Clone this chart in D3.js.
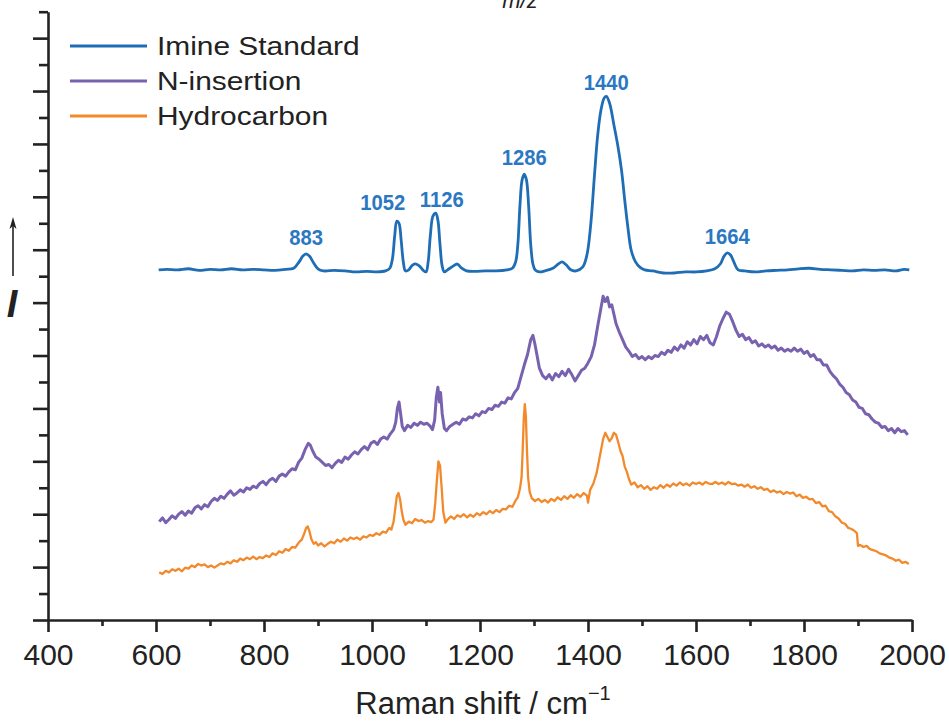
<!DOCTYPE html>
<html>
<head>
<meta charset="utf-8">
<script src="https://cdn.jsdelivr.net/npm/d3@7"></script>
<style>
  body { margin: 0; background: #fff; }
  svg { display: block; }
</style>
</head>
<body>
<div id="chart"></div>
<script>
// x ticks (Raman shift, cm-1)
const xMajor = [400, 600, 800, 1000, 1200, 1400, 1600, 1800, 2000];
const xMinor = [500, 700, 900, 1100, 1300, 1500, 1700, 1900];
// y ticks (arbitrary intensity units, offset stacked)
const yMajor = [0, 1, 2, 3, 4, 5, 6, 7, 8, 9, 10, 11];
const yMinor = [0.5, 1.5, 2.5, 3.5, 4.5, 5.5, 6.5, 7.5, 8.5, 9.5, 10.5, 11.5];

const seriesNames = ["Imine Standard", "N-insertion", "Hydrocarbon"];
const seriesColors = ["#1f6db5", "#7862b0", "#f28a2c"];

// imine standard spectrum [shift, intensity]
const imine = [[605,6.62],[620,6.63],[640,6.62],[660,6.64],[680,6.61],[700,6.63],[720,6.62],[740,6.64],[760,6.62],[780,6.63],[800,6.62],[820,6.61],[840,6.63],[855,6.65],[865,6.77],[872,6.88],[878,6.92],[884,6.88],[892,6.75],[900,6.64],[910,6.60],[930,6.61],[950,6.60],[970,6.58],[990,6.59],[1010,6.58],[1025,6.60],[1033,6.65],[1038,6.84],[1042,7.26],[1046,7.54],[1050,7.50],[1054,7.18],[1058,6.77],[1062,6.60],[1068,6.62],[1075,6.71],[1082,6.73],[1088,6.69],[1094,6.62],[1100,6.58],[1104,6.77],[1108,7.26],[1113,7.64],[1118,7.69],[1122,7.56],[1126,7.09],[1130,6.69],[1134,6.58],[1140,6.62],[1150,6.69],[1158,6.73],[1166,6.65],[1175,6.60],[1190,6.59],[1210,6.60],[1230,6.60],[1250,6.62],[1260,6.65],[1266,6.77],[1270,7.09],[1274,7.84],[1278,8.32],[1282,8.43],[1286,8.32],[1290,7.84],[1294,7.09],[1298,6.73],[1302,6.62],[1310,6.58],[1320,6.60],[1335,6.65],[1345,6.73],[1352,6.77],[1360,6.71],[1368,6.62],[1378,6.60],[1390,6.67],[1398,6.90],[1405,7.47],[1412,8.41],[1418,9.17],[1424,9.64],[1430,9.87],[1434,9.90],[1440,9.77],[1448,9.36],[1455,8.98],[1462,8.51],[1468,7.94],[1474,7.41],[1480,6.99],[1488,6.77],[1496,6.67],[1505,6.62],[1520,6.60],[1540,6.56],[1560,6.56],[1580,6.58],[1600,6.58],[1620,6.60],[1635,6.64],[1645,6.73],[1652,6.88],[1658,6.94],[1664,6.90],[1670,6.77],[1678,6.62],[1690,6.60],[1710,6.58],[1730,6.60],[1750,6.61],[1770,6.62],[1790,6.64],[1810,6.65],[1830,6.63],[1850,6.62],[1870,6.61],[1890,6.60],[1910,6.62],[1930,6.61],[1950,6.62],[1970,6.60],[1985,6.63],[1995,6.62]];

// N-insertion spectrum
const nInsertion = [[606,1.86],[612,1.93],[618,1.84],[624,1.90],[630,1.97],[636,1.92],[642,2.00],[648,2.05],[654,1.98],[660,2.06],[666,2.02],[672,2.12],[678,2.16],[684,2.10],[690,2.18],[696,2.14],[702,2.24],[708,2.30],[714,2.26],[720,2.34],[726,2.30],[732,2.38],[738,2.44],[744,2.36],[750,2.40],[756,2.46],[762,2.42],[768,2.50],[774,2.47],[780,2.53],[786,2.50],[792,2.58],[798,2.62],[804,2.56],[810,2.64],[816,2.68],[822,2.62],[828,2.72],[834,2.76],[840,2.72],[846,2.80],[852,2.86],[858,2.84],[864,2.98],[870,3.06],[876,3.22],[882,3.34],[886,3.30],[890,3.20],[896,3.08],[902,3.04],[908,2.98],[914,2.92],[920,2.94],[926,2.88],[932,2.96],[938,3.02],[944,2.98],[950,3.08],[956,3.04],[962,3.12],[968,3.18],[974,3.14],[980,3.22],[986,3.28],[992,3.22],[998,3.34],[1004,3.38],[1010,3.32],[1016,3.42],[1022,3.46],[1028,3.42],[1034,3.52],[1040,3.60],[1044,3.74],[1047,4.00],[1050,4.12],[1053,3.90],[1056,3.66],[1060,3.58],[1066,3.68],[1072,3.64],[1078,3.72],[1084,3.68],[1090,3.74],[1096,3.70],[1102,3.72],[1108,3.66],[1112,3.60],[1116,3.78],[1119,4.20],[1122,4.40],[1125,4.12],[1127,4.30],[1130,3.90],[1134,3.62],[1138,3.58],[1144,3.66],[1150,3.70],[1156,3.74],[1162,3.70],[1168,3.80],[1174,3.78],[1180,3.84],[1186,3.82],[1192,3.90],[1198,3.86],[1204,3.94],[1210,3.92],[1216,4.00],[1222,3.98],[1228,4.06],[1234,4.04],[1240,4.12],[1246,4.10],[1252,4.20],[1258,4.18],[1264,4.30],[1270,4.38],[1276,4.60],[1282,4.82],[1288,5.02],[1294,5.30],[1298,5.38],[1302,5.20],[1306,4.98],[1310,4.76],[1316,4.62],[1322,4.56],[1328,4.64],[1334,4.54],[1340,4.66],[1346,4.60],[1352,4.70],[1358,4.62],[1364,4.74],[1370,4.64],[1376,4.52],[1382,4.62],[1388,4.72],[1394,4.76],[1400,4.86],[1406,4.98],[1412,5.20],[1418,5.56],[1424,5.90],[1428,6.12],[1432,6.02],[1436,6.10],[1440,5.92],[1444,5.96],[1448,5.78],[1452,5.60],[1458,5.44],[1464,5.30],[1470,5.16],[1476,5.08],[1482,4.98],[1488,5.02],[1494,4.94],[1500,4.98],[1506,4.92],[1512,4.98],[1518,4.94],[1524,5.00],[1530,4.98],[1536,5.06],[1542,5.02],[1548,5.10],[1554,5.06],[1560,5.16],[1566,5.10],[1572,5.20],[1578,5.14],[1584,5.26],[1590,5.20],[1596,5.30],[1602,5.22],[1608,5.36],[1614,5.30],[1620,5.38],[1626,5.24],[1632,5.20],[1638,5.36],[1644,5.56],[1650,5.70],[1656,5.82],[1662,5.78],[1668,5.64],[1674,5.48],[1680,5.36],[1686,5.40],[1692,5.30],[1698,5.34],[1704,5.24],[1710,5.28],[1716,5.18],[1722,5.22],[1728,5.16],[1734,5.20],[1740,5.14],[1746,5.18],[1752,5.10],[1758,5.14],[1764,5.08],[1770,5.12],[1776,5.08],[1782,5.14],[1788,5.08],[1794,5.12],[1800,5.04],[1806,5.08],[1812,4.98],[1818,5.02],[1824,4.92],[1830,4.92],[1836,4.82],[1842,4.82],[1848,4.70],[1854,4.62],[1860,4.56],[1866,4.46],[1872,4.40],[1878,4.30],[1884,4.26],[1890,4.16],[1896,4.12],[1902,4.02],[1908,4.00],[1914,3.90],[1920,3.88],[1926,3.80],[1932,3.74],[1938,3.72],[1944,3.64],[1950,3.66],[1956,3.58],[1962,3.62],[1968,3.54],[1974,3.62],[1980,3.56],[1986,3.58],[1992,3.50]];

// hydrocarbon spectrum
const hydrocarbon = [[606,0.90],[612,0.87],[618,0.93],[624,0.90],[630,0.96],[636,0.93],[642,0.97],[648,0.92],[654,0.99],[660,0.97],[666,1.03],[672,1.00],[678,1.06],[684,1.03],[690,1.05],[696,1.00],[702,1.03],[708,0.99],[714,1.03],[720,1.07],[726,1.05],[732,1.10],[738,1.07],[744,1.13],[750,1.10],[756,1.16],[762,1.13],[768,1.18],[774,1.15],[780,1.20],[786,1.15],[792,1.19],[798,1.17],[804,1.22],[810,1.19],[816,1.26],[822,1.23],[828,1.30],[834,1.27],[840,1.34],[846,1.31],[852,1.38],[858,1.37],[864,1.46],[870,1.52],[874,1.62],[878,1.74],[881,1.77],[884,1.68],[888,1.52],[892,1.44],[896,1.47],[900,1.41],[906,1.45],[912,1.39],[918,1.44],[924,1.48],[930,1.45],[936,1.52],[942,1.48],[948,1.54],[954,1.50],[960,1.56],[966,1.53],[972,1.56],[978,1.52],[984,1.58],[990,1.56],[996,1.61],[1002,1.59],[1008,1.64],[1014,1.61],[1020,1.67],[1026,1.65],[1032,1.74],[1036,1.71],[1040,1.86],[1043,2.10],[1046,2.34],[1049,2.40],[1052,2.28],[1055,2.06],[1058,1.90],[1062,1.80],[1068,1.86],[1074,1.83],[1080,1.91],[1086,1.87],[1092,1.89],[1098,1.84],[1104,1.87],[1110,1.85],[1114,1.90],[1117,2.20],[1120,2.62],[1123,3.00],[1126,2.92],[1129,2.50],[1132,2.04],[1136,1.84],[1140,1.90],[1146,1.96],[1152,1.91],[1158,1.98],[1164,1.95],[1170,2.00],[1176,1.94],[1182,1.99],[1188,1.95],[1194,2.02],[1200,1.98],[1206,2.04],[1212,2.00],[1218,2.06],[1224,2.02],[1230,2.08],[1236,2.04],[1242,2.10],[1248,2.09],[1254,2.16],[1260,2.14],[1266,2.26],[1270,2.32],[1274,2.48],[1277,2.70],[1279,3.20],[1281,3.80],[1283,4.08],[1285,3.84],[1287,3.20],[1289,2.70],[1292,2.42],[1296,2.30],[1302,2.25],[1308,2.29],[1314,2.23],[1320,2.27],[1326,2.22],[1332,2.29],[1338,2.25],[1344,2.32],[1350,2.27],[1356,2.34],[1362,2.29],[1368,2.36],[1374,2.31],[1380,2.38],[1386,2.33],[1392,2.40],[1398,2.35],[1400,2.22],[1404,2.46],[1410,2.58],[1416,2.78],[1422,3.10],[1428,3.42],[1432,3.54],[1436,3.46],[1440,3.38],[1444,3.44],[1448,3.54],[1452,3.50],[1456,3.36],[1460,3.20],[1464,3.10],[1468,2.90],[1472,2.80],[1476,2.66],[1480,2.56],[1486,2.60],[1492,2.51],[1498,2.55],[1504,2.48],[1510,2.53],[1516,2.46],[1522,2.51],[1528,2.48],[1534,2.55],[1540,2.50],[1546,2.56],[1552,2.52],[1558,2.58],[1564,2.54],[1570,2.60],[1576,2.55],[1582,2.58],[1588,2.54],[1594,2.60],[1600,2.57],[1606,2.60],[1612,2.56],[1618,2.61],[1624,2.58],[1630,2.57],[1636,2.61],[1642,2.57],[1648,2.60],[1654,2.56],[1660,2.61],[1666,2.57],[1672,2.58],[1678,2.54],[1684,2.56],[1690,2.52],[1696,2.56],[1702,2.50],[1708,2.53],[1714,2.48],[1720,2.51],[1726,2.46],[1732,2.48],[1738,2.42],[1744,2.45],[1750,2.41],[1756,2.43],[1762,2.38],[1768,2.42],[1774,2.39],[1780,2.41],[1786,2.34],[1792,2.37],[1798,2.31],[1804,2.33],[1810,2.28],[1816,2.29],[1822,2.21],[1828,2.23],[1834,2.15],[1840,2.16],[1846,2.06],[1852,2.04],[1858,1.96],[1864,1.92],[1870,1.84],[1876,1.82],[1882,1.74],[1888,1.72],[1894,1.68],[1898,1.64],[1900,1.40],[1904,1.42],[1910,1.38],[1916,1.40],[1922,1.34],[1928,1.32],[1934,1.30],[1940,1.26],[1946,1.24],[1952,1.22],[1958,1.18],[1964,1.16],[1970,1.12],[1976,1.14],[1982,1.08],[1988,1.10],[1994,1.06]];

// peak annotations on the imine trace
const peakLabels = ["883", "1052", "1126", "1286", "1440", "1664"];
const peakAt = [878, 1046, 1118, 1282, 1434, 1658];

const width = 949, height = 723;

const svg = d3.select("#chart").append("svg")
    .attr("width", width)
    .attr("height", height)
    .style("font-family", "'Liberation Sans', Arial, sans-serif");

const x = d3.scaleLinear().domain([400, 2000]).range([48, 912]);
const y = d3.scaleLinear().domain([0, 11.5]).range([620, 11.7]);

// leftover label cut at the top edge
svg.append("text")
    .attr("x", 520)
    .attr("y", 8)
    .attr("text-anchor", "middle")
    .style("font-size", "22px")
    .style("font-style", "italic")
    .attr("fill", "#222")
    .text("m/z");

// spectra
const line = d3.line().x(d => x(d[0])).y(d => y(d[1]));
const allSeries = [imine, nInsertion, hydrocarbon];
const widths = [2.8, 3, 2.3];
allSeries.forEach((s, i) => {
    svg.append("path")
        .datum(s)
        .attr("fill", "none")
        .attr("stroke", seriesColors[i])
        .attr("stroke-width", widths[i])
        .attr("stroke-linejoin", "round")
        .attr("d", i === 0 ? line.curve(d3.curveCatmullRom)(s) : line.curve(d3.curveLinear)(s));
});

// peak labels
const nudge = { "1052": [-14, -11], "1126": [6, -6], "1440": [0, -6] };
peakLabels.forEach((lab, i) => {
    const pk = imine.reduce((a, b) => Math.abs(b[0] - peakAt[i]) < Math.abs(a[0] - peakAt[i]) ? b : a);
    const n = nudge[lab] || [0, -9];
    svg.append("text")
        .attr("transform", `translate(${x(pk[0]) + n[0]},${y(pk[1]) + n[1]}) scale(0.92,1)`)
        .attr("text-anchor", "middle")
        .style("font-size", "22px")
        .style("font-weight", "bold")
        .attr("fill", "#2b77c2")
        .text(lab);
});

// x axis
const xAxis = svg.append("g")
    .attr("transform", "translate(0,620)")
    .call(d3.axisBottom(x).tickValues(xMajor).tickSize(12).tickSizeOuter(0).tickFormat(d3.format("d")));
xAxis.selectAll("text")
    .attr("y", 45).attr("dy", 0)
    .style("font-size", "30px")
    .attr("fill", "#222");
svg.append("g")
    .attr("transform", "translate(0,620)")
    .call(d3.axisBottom(x).tickValues(xMinor).tickSize(6).tickFormat(""))
    .select(".domain").remove();

// y axis
svg.append("g")
    .attr("transform", "translate(48,0)")
    .call(d3.axisLeft(y).tickValues(yMajor).tickSize(15).tickSizeOuter(0).tickFormat(""));
svg.append("g")
    .attr("transform", "translate(48,0)")
    .call(d3.axisLeft(y).tickValues(yMinor).tickSize(9).tickFormat(""))
    .select(".domain").remove();

svg.selectAll(".domain, .tick line")
    .attr("stroke", "#222")
    .attr("stroke-width", 2.6);

// axis titles
const xt = svg.append("text")
    .attr("x", 483)
    .attr("y", 714)
    .attr("text-anchor", "middle")
    .style("font-size", "31px")
    .attr("fill", "#222");
xt.append("tspan").text("Raman shift / cm");
xt.append("tspan").attr("dy", -14).style("font-size", "20px").text("\u22121");

// y label: arrow and italic I
svg.append("line")
    .attr("x1", 13).attr("x2", 13)
    .attr("y1", 276).attr("y2", 224)
    .attr("stroke", "#222").attr("stroke-width", 1.6);
svg.append("path")
    .attr("d", "M13,217 L9.5,229 L13,226 L16.5,229 Z")
    .attr("fill", "#222");
svg.append("text")
    .attr("x", 12)
    .attr("y", 317)
    .attr("text-anchor", "middle")
    .style("font-size", "38px")
    .style("font-weight", "bold")
    .style("font-style", "italic")
    .attr("fill", "#222")
    .text("I");

// legend
const legend = svg.append("g");
seriesNames.forEach((name, i) => {
    const ly = 46 + i * 35;
    legend.append("line")
        .attr("x1", 70).attr("x2", 147)
        .attr("y1", ly).attr("y2", ly)
        .attr("stroke", seriesColors[i])
        .attr("stroke-width", 3);
    legend.append("text")
        .attr("transform", `translate(157,${ly + 9}) scale(1.15,1)`)
        .style("font-size", "26px")
        .attr("fill", "#222")
        .text(name);
});
</script>
</body>
</html>
